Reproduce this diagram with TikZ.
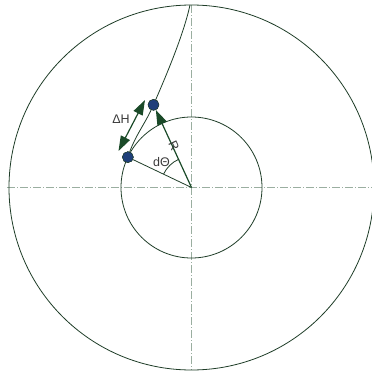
\documentclass[tikz,border=0pt]{standalone}
\usepackage{fontspec}
\setmainfont{Liberation Sans}
\usetikzlibrary{arrows.meta, calc}
\definecolor{linegreen}{HTML}{1F3D28}
\definecolor{tipgreen}{HTML}{1A4A28}
\definecolor{axisgray}{HTML}{9AAEA0}
\definecolor{dotblue}{HTML}{1F3F7A}
\definecolor{labelgray}{HTML}{3A3A3A}

\tikzset{
  wheel/.style={draw=linegreen, line width=0.8pt},
  axisline/.style={draw=axisgray, line width=0.8pt, dash pattern=on 8pt off 2pt on 1pt off 2pt},
  dot/.style={circle, fill=dotblue, draw=linegreen, line width=0.4pt, minimum size=11pt, inner sep=0pt},
  bigtip/.tip={Triangle[length=15pt, width=10pt]},
  bigarrow/.style={draw=linegreen, line width=1.2pt, -bigtip, color=tipgreen},
  lbl/.style={text=labelgray, font=\fontsize{12.5}{14}\selectfont, inner sep=0pt}
}

\begin{document}
\begin{tikzpicture}[x=1pt, y=1pt]
  \useasboundingbox (-191.5,-185.5) rectangle (180.5,187.5);

  \coordinate (O) at (0,0);
  \coordinate (T) at (-1.5,182.5);
  \coordinate (D1) at (-73,36.5);
  \coordinate (D2) at (-46.5,87.5);

  % centre lines
  \draw[axisline] (-184.5,0) -- (180.5,0);
  \draw[axisline] (0,182.5) -- (0,-182.5);

  % wheel and hub
  \draw[wheel] (O) circle (182.5);
  \draw[wheel] (O) circle (70.5);

  \node[dot] (A) at (154.5:70.5) {};
  \node[dot] (B) at (114.7:91) {};

  % path of the point
  \draw[wheel] (A.center) .. controls +(7,22) and +(-8,-19) .. (B.center)
    .. controls +(14,32) and +(-6,-28) .. (T);
  \node[dot] at (A) {};
  \node[dot] at (B) {};

  \draw[wheel] (O) -- (A);
  \draw[bigarrow] (O) -- (B);
  \draw[wheel] (154.5:31) arc (154.5:114.7:31);

  \draw[bigarrow, bigtip-bigtip] (D1) -- (D2);

  \node[lbl] (dH) at (-70.5,68.5) {ΔH};
  \node[lbl, rotate=-65] (Rlab) at (-17.5,41.5) {R};
  \node[lbl] (dT) at (-30,25) {dΘ};
\end{tikzpicture}
\end{document}
